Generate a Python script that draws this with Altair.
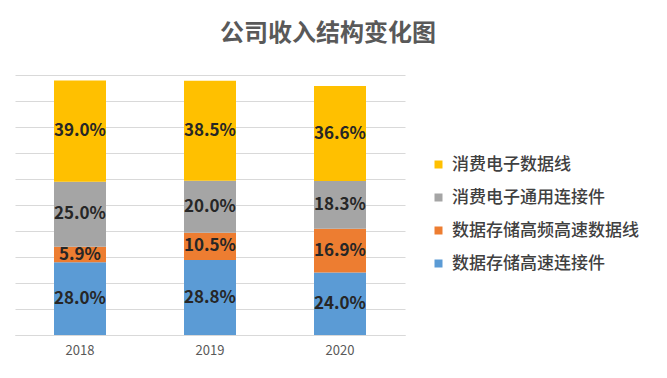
import altair as alt
import pandas as pd

years = ["2018", "2019", "2020"]
series = ["数据存储高速连接件", "数据存储高频高速数据线", "消费电子通用连接件", "消费电子数据线"]
blue_vals = [28.0, 28.8, 24.0]
orange_vals = [5.9, 10.5, 16.9]
gray_vals = [25.0, 20.0, 18.3]
yellow_vals = [39.0, 38.5, 36.6]
grid_values = [0, 10, 20, 30, 40, 50, 60, 70, 80, 90, 100]
colors = {"数据存储高速连接件": "#5B9BD5", "数据存储高频高速数据线": "#ED7D31",
          "消费电子通用连接件": "#A5A5A5", "消费电子数据线": "#FFC000"}

all_vals = [blue_vals, orange_vals, gray_vals, yellow_vals]
rows = []
for i, (s, vals) in enumerate(zip(series, all_vals)):
    for y, v in zip(years, vals):
        rows.append({"year": y, "series": s, "value": v, "order": i})
df = pd.DataFrame(rows)

legend_order = list(reversed(series))
FONT = "Noto Sans CJK SC"

base = alt.Chart(df).transform_stack(
    stack="value", groupby=["year"], as_=["v0", "v1"],
    sort=[alt.SortField("order", order="ascending")]
).transform_calculate(
    mid="(datum.v0 + datum.v1) / 2",
    label="format(datum.value, '.1f') + '%'"
)

x_axis = alt.Axis(labelAngle=0, ticks=False, domainColor="#d9d9d9",
                  labelColor="#595959", labelFontSize=13, labelPadding=9,
                  labelFont=FONT, title=None)
y_axis = alt.Axis(labels=False, ticks=False, domain=False, grid=True,
                  gridColor="#d9d9d9", values=grid_values, title=None)
x_scale = alt.Scale(paddingInner=0, paddingOuter=0)
y_scale = alt.Scale(domain=[0, 100])

bars = base.mark_bar(size=52).encode(
    x=alt.X("year:N", sort=years, scale=x_scale, axis=x_axis),
    y=alt.Y("v0:Q", scale=y_scale, axis=y_axis),
    y2="v1:Q",
    color=alt.Color("series:N", scale=alt.Scale(domain=legend_order,
                                                range=[colors[s] for s in legend_order]),
                    legend=alt.Legend(title=None, orient="none", legendX=415, legendY=81,
                                      symbolType="square", symbolSize=64, symbolStrokeWidth=0,
                                      labelFontSize=17, labelColor="#404040", labelFont=FONT,
                                      labelFontWeight=500,
                                      rowPadding=15, labelOffset=5, labelLimit=400))
)

texts = base.mark_text(font=FONT, fontSize=17, fontWeight="bold", color="#262626").encode(
    x=alt.X("year:N", sort=years, scale=x_scale, axis=x_axis),
    y=alt.Y("mid:Q", scale=y_scale, axis=y_axis),
    text="label:N"
)

chart = (bars + texts).properties(
    width=390, height=260,
    autosize=alt.AutoSizeParams(type="none"),
    padding={"left": 7, "top": 67, "right": 250, "bottom": 30},
    background="white",
    title=alt.TitleParams("公司收入结构变化图", fontSize=24, font=FONT, fontWeight="bold",
                          color="#595959", anchor="middle", dx=118, offset=29)
).configure_view(stroke=None)

chart.save("out.html", embed_options={"renderer": "svg", "actions": False})
